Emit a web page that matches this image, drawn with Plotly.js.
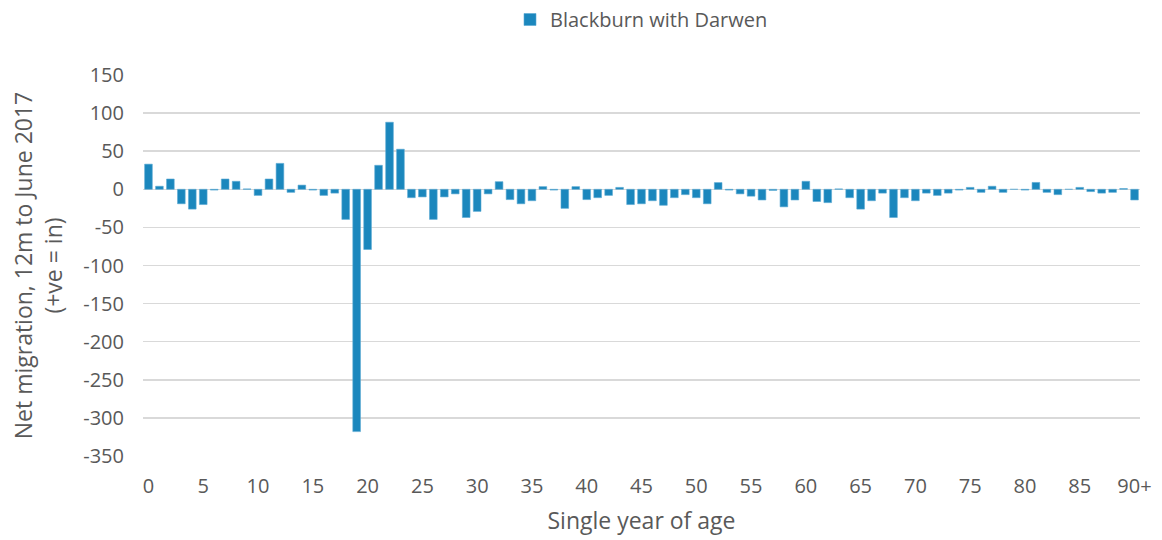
<!DOCTYPE html>
<html>
<head>
<meta charset="utf-8">
<script src="https://cdn.plot.ly/plotly-3.0.1.min.js"></script>
<style>html,body{margin:0;padding:0;background:#fff;}#chart{width:1162px;height:540px;}</style>
</head>
<body>
<div id="chart"></div>
<script>
const seriesName = "Blackburn with Darwen";
const ages = [];
for (let i = 0; i < 90; i++) ages.push(String(i));
ages.push("90+");
const netMigration = [
  33, 4, 13.5, -19, -26, -20, -1, 13.5, 10.5, 0.5,
  -8, 13.5, 34, -4, 5.5, -1, -8, -5, -39.5, -318,
  -79, 31.5, 88, 52.6, -11, -10, -39.5, -10, -6, -37,
  -29, -6, 10, -13.5, -19, -15, 3.5, -1, -25, 3.5,
  -13.5, -11, -8, 2.5, -20, -19, -15, -21, -11, -7,
  -11, -19, 8.8, -1, -6, -9, -14, -1.5, -23, -14,
  10.5, -16, -17.5, 0.5, -11, -26, -15, -5, -37, -11,
  -15, -5, -8, -5, -1, 2.5, -4, 4, -4, 0,
  -1, 9, -4, -7, 0, 2.5, -3, -5, -4, 1,
  -14
];
const xTickLabels = ["0","5","10","15","20","25","30","35","40","45","50","55","60","65","70","75","80","85","90+"];
const yTicks = [150,100,50,0,-50,-100,-150,-200,-250,-300,-350];
const yTickLabels = ["150","100","50","0","-50","-100","-150","-200","-250","-300","-350"];

const font = "'Open Sans', sans-serif";
const grey = "#595959";

Plotly.newPlot("chart", [{
  type: "bar",
  x: ages,
  y: netMigration,
  name: seriesName,
  marker: {color: "#1b87bd", line: {color: "#5aa9d4", width: 0.6}},
  showlegend: true
}], {
  width: 1162, height: 540,
  margin: {l: 143, r: 22, t: 75, b: 84},
  paper_bgcolor: "#fff", plot_bgcolor: "#fff",
  font: {family: font, color: grey, size: 20},
  bargap: 0.3,
  showlegend: true,
  legend: {orientation: "h", x: 0.5, xanchor: "center", xref: "paper", y: 1.0, yref: "container", yanchor: "top",
           font: {size: 20, color: grey}},
  xaxis: {
    type: "category",
    tickmode: "array", tickvals: xTickLabels, ticktext: xTickLabels,
    showgrid: false, zeroline: false, showline: false, ticks: "",
    ticklabelstandoff: 16,
    tickfont: {size: 20, color: grey},
    title: {text: "Single year of age", font: {size: 23, color: grey}, standoff: 14},
    automargin: false
  },
  yaxis: {
    range: [-350, 150],
    tickmode: "array", tickvals: yTicks, ticktext: yTickLabels,
    showgrid: true, gridcolor: "#d9d9d9", gridwidth: 1.5,
    zeroline: true, zerolinecolor: "#d9d9d9", zerolinewidth: 1.5,
    ticks: "", tickfont: {size: 20, color: grey},
    ticklabelstandoff: 18,
    title: {text: "Net migration, 12m to June 2017<br>(+ve = in)", font: {size: 23, color: grey}, standoff: 14},
    automargin: false
  }
}, {displayModeBar: false, staticPlot: true});
</script>
</body>
</html>
